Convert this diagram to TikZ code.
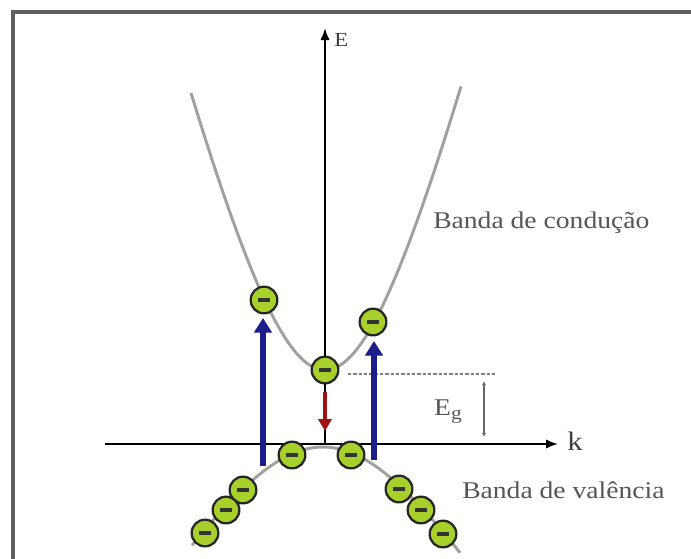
\documentclass[tikz,border=0pt]{standalone}
\usepackage{fontspec}
\setmainfont[FakeStretch=1.15]{Liberation Serif}
\usetikzlibrary{arrows.meta}
\definecolor{framegray}{HTML}{5E5E5E}
\definecolor{bandgray}{HTML}{A0A0A0}
\definecolor{labelgray}{HTML}{555555}
\definecolor{elecgreen}{HTML}{A8D02A}
\definecolor{pumpblue}{HTML}{1C1C8A}
\definecolor{dropred}{HTML}{9E1414}
\tikzset{
  electron/.style={circle,draw=black!85,line width=1.7pt,fill=elecgreen,minimum size=20pt,inner sep=0pt,
    path picture={\draw[line width=2.6pt,black!80] ([xshift=-4.5pt]path picture bounding box.center) -- ([xshift=4.5pt]path picture bounding box.center);}},
  band/.style={bandgray,line width=2.2pt},
  axis/.style={line width=1.5pt,-{Latex[length=9pt,width=7pt]}},
  pump/.style={pumpblue,line width=3.8pt,-{Triangle[length=11pt,width=13pt]}},
  drop/.style={dropred,line width=3pt,-{Triangle[length=9pt,width=10pt]}},
  lbl/.style={text=labelgray,inner sep=0pt,font=\fontsize{18}{20}\selectfont},
}

\begin{document}
\begin{tikzpicture}[x=0.75pt,y=-0.75pt]
\useasboundingbox (0,0) rectangle (691,558);
\draw[framegray,line width=3pt] (12.5,580) -- (12.5,11.5) -- (710,11.5);

\draw[band] plot[domain=-134:136,samples=80] ({325+\x},{370-380*(sqrt(1+(\x/95)*(\x/95))-1)});
\draw[band] plot[domain=-131:137,samples=80] ({323+\x},{447+177*(sqrt(1+(\x/110)*(\x/110))-1)});

\coordinate (O) at (325,444);
\coordinate (Etop) at (325,28);
\coordinate (kleft) at (105,444);
\coordinate (kright) at (558,444);
\draw[axis] (O) -- (Etop);
\draw[axis] (kleft) -- (kright);
\node[anchor=base west,inner sep=0pt,text=black!75,font=\fontsize{15}{17}\selectfont] (Elbl) at (334,46) {E};
\node[anchor=base west,inner sep=0pt,text=black!75,font=\fontsize{20}{22}\selectfont] (klbl) at (567,450) {k};

\coordinate (gapL) at (348,374);
\coordinate (gapR) at (497,374);
\draw[black!50,line width=0.8pt,dash pattern=on 2.5pt off 1.5pt] (gapL) -- (gapR);
\coordinate (egtop) at (484,381);
\coordinate (egbot) at (484,437);
\draw[black!60,line width=0.8pt,{Latex[length=3pt,width=3pt]}-{Latex[length=3pt,width=3pt]}] (egtop) -- (egbot);
\node[lbl,anchor=base] (eg) at (448,415) {E\raisebox{-0.45ex}{\fontsize{14}{14}\selectfont g}};

\coordinate (p1a) at (263,466);
\coordinate (p1b) at (263,318);
\coordinate (p2a) at (374,460);
\coordinate (p2b) at (374,341);
\coordinate (r1a) at (325,392);
\coordinate (r1b) at (325,431);
\draw[pump] (p1a) -- (p1b);
\draw[pump] (p2a) -- (p2b);
\draw[drop] (r1a) -- (r1b);

\node[electron] (c1) at (264,300) {};
\node[electron] (c2) at (325,370) {};
\node[electron] (c3) at (373,322) {};
\node[electron] (v1) at (292,455) {};
\node[electron] (v2) at (351,455) {};
\node[electron] (v3) at (243,490) {};
\node[electron] (v4) at (226,510) {};
\node[electron] (v5) at (205,533) {};
\node[electron] (v6) at (399,489) {};
\node[electron] (v7) at (421,510) {};
\node[electron] (v8) at (443,534) {};

\node[lbl,anchor=base west] (cond) at (433,228) {Banda de condução};
\node[lbl,anchor=base west] (val) at (462,498) {Banda de valência};
\end{tikzpicture}
\end{document}
